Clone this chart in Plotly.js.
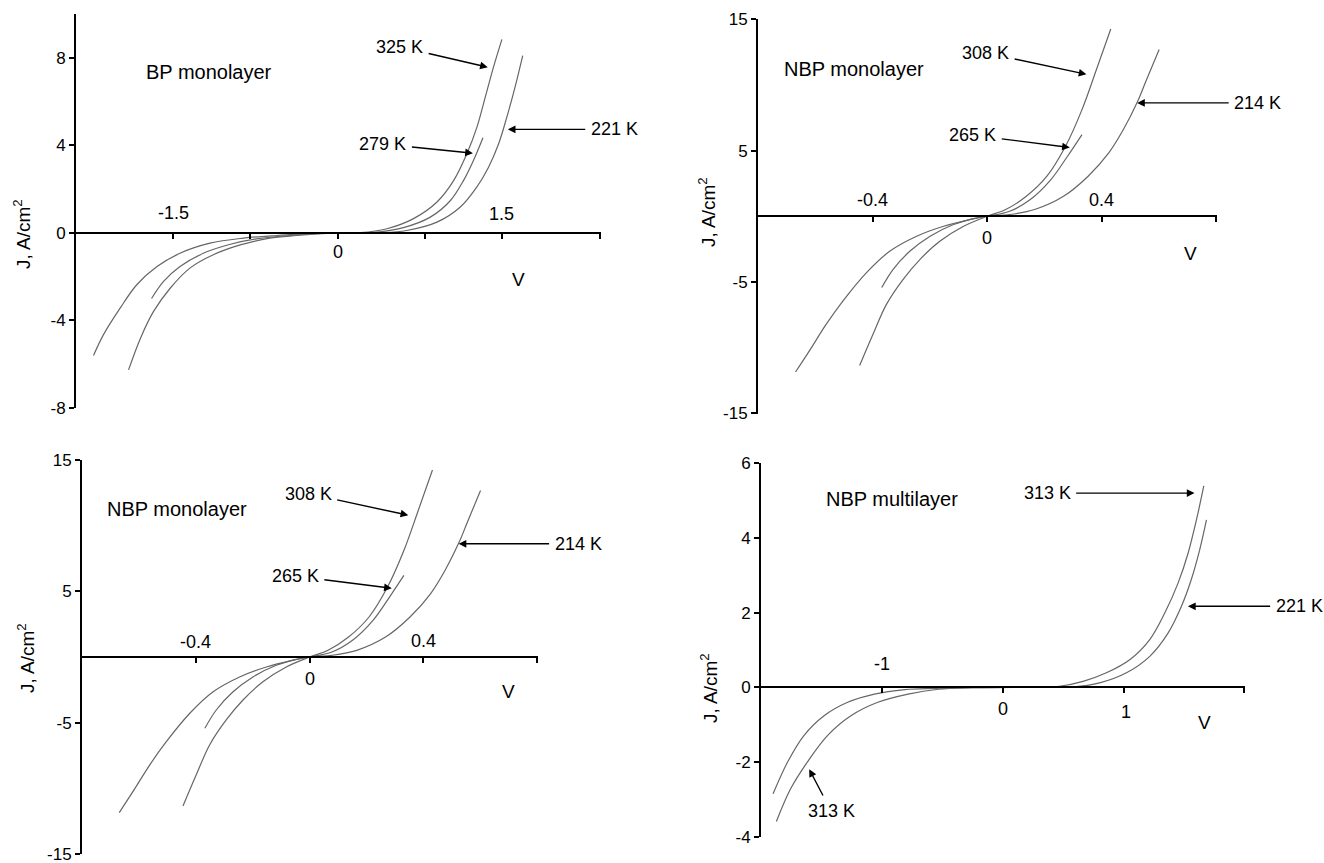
<!DOCTYPE html>
<html><head><meta charset="utf-8">
<script src="https://cdn.plot.ly/plotly-3.0.1.min.js"></script>
<style>html,body{margin:0;padding:0;background:#fff}#chart{width:1324px;height:863px}</style>
</head><body><div id="chart"></div>
<script>
// ---------- DATA ----------
// Panel 1: BP monolayer  (V in volts, J in A/cm2)
const bp221V = [-2.23,-2.14,-1.987,-1.835,-1.65,-1.44,-1.166,-0.86,-0.557,-0.34,-0.15,0.15,0.39,0.63,0.907,1.12,1.27,1.378,1.47,1.545,1.62,1.69];
const bp221J = [-5.6,-4.66,-3.44,-2.37,-1.54,-0.93,-0.47,-0.24,-0.12,-0.06,-0.02,0.0,0.01,0.11,0.49,1.18,2.09,3.0,4.07,5.29,6.66,8.1];
const bp279V = [-1.70,-1.59,-1.44,-1.227,-0.98,-0.74,-0.436,-0.2,0.1,0.33,0.60,0.846,1.03,1.15,1.24,1.327];
const bp279J = [-3.0,-2.22,-1.54,-0.93,-0.52,-0.27,-0.12,-0.04,0.0,0.02,0.24,0.72,1.48,2.4,3.31,4.35];
const bp325V = [-1.91,-1.80,-1.683,-1.53,-1.35,-1.136,-0.89,-0.62,-0.375,-0.2,0.0,0.207,0.45,0.693,0.907,1.06,1.18,1.272,1.348,1.423,1.50];
const bp325J = [-6.26,-4.8,-3.6,-2.53,-1.61,-1.0,-0.55,-0.24,-0.12,-0.05,0.0,0.01,0.19,0.65,1.41,2.4,3.62,4.83,6.2,7.57,8.84];
const bpXTicks = [-1.5,-0.8,0,0.8,1.5,2.4];
const bpXLabels = ['-1.5','0','1.5'];
const bpXLabelVals = [-1.5,0,1.5];
const bpYTicks = [-8,-4,0,4,8];
const bpTemps = ['325 K','279 K','221 K'];

// Panels 2 and 3: NBP monolayer
const nbp214V = [-0.669,-0.62,-0.561,-0.503,-0.421,-0.339,-0.246,-0.152,-0.059,0,0.079,0.166,0.267,0.353,0.425,0.476,0.526,0.555,0.601];
const nbp214J = [-11.86,-10.23,-8.2,-6.44,-4.29,-2.65,-1.52,-0.76,-0.25,0,0.13,0.51,1.52,3.05,4.82,6.6,8.76,10.3,12.69];
const nbp265V = [-0.368,-0.328,-0.269,-0.199,-0.117,-0.035,0,0.079,0.151,0.223,0.281,0.3315];
const nbp265J = [-5.43,-4.04,-2.65,-1.52,-0.63,-0.12,0,0.38,1.27,2.79,4.57,6.22];
const nbp308V = [-0.445,-0.398,-0.351,-0.293,-0.234,-0.164,-0.082,0,0.065,0.137,0.209,0.274,0.3315,0.382,0.432];
const nbp308J = [-11.36,-8.96,-6.69,-4.8,-3.28,-1.89,-0.76,0,0.51,1.52,3.05,5.33,8.12,11.17,14.26];
const nbpXTicks = [-0.4,0,0.4,0.8];
const nbpXLabels = ['-0.4','0','0.4'];
const nbpXLabelVals = [-0.4,0,0.4];
const nbpYTicks = [-15,-5,5,15];
const nbpTemps = ['308 K','265 K','214 K'];

// Panel 4: NBP multilayer
const mul221V = [-1.90,-1.78,-1.645,-1.478,-1.283,-1.062,-0.81,-0.56,-0.25,0.1,0.3,0.58,0.802,1.024,1.217,1.368,1.479,1.56,1.63,1.686];
const mul221J = [-2.85,-2.0,-1.29,-0.76,-0.40,-0.18,-0.06,-0.03,-0.01,0,0,0.01,0.12,0.39,0.83,1.45,2.17,2.88,3.68,4.48];
const mul313V = [-1.873,-1.756,-1.617,-1.45,-1.256,-1.033,-0.783,-0.533,-0.25,0.1,0.3,0.472,0.665,0.858,1.051,1.217,1.341,1.451,1.534,1.603,1.664];
const mul313J = [-3.59,-2.72,-2.0,-1.29,-0.76,-0.40,-0.18,-0.05,-0.01,0,0,0.03,0.16,0.39,0.74,1.28,1.99,2.79,3.59,4.48,5.39];
const mulXTicks = [-1,0,1,2];
const mulXLabels = ['-1','0','1'];
const mulXLabelVals = [-1,0,1.02];
const mulYTicks = [-4,-2,0,2,4,6];
const mulTemps = ['313 K','221 K','313 K'];

// ---------- LAYOUT ----------
const W = 1324, H = 863;
const FONT = 'Liberation Sans, Arial, Helvetica, sans-serif';
const CURVE = {color:'#666666', width:1.2};

// temperature labels: text centre (x,y) and arrow tip, in the panel's data units
const panels = [
  {n:1, px:[76,601], py:[14,408], xr:[-2.39,2.405], yr:[-8.001,10],
   xt:bpXTicks, yt:bpYTicks, lv:bpXLabelVals, lt:bpXLabels, lshift:[20,-19,19],
   curves:[[bp221V,bp221J],[bp279V,bp279J],[bp325V,bp325J]],
   title:{t:'BP monolayer', x:-1.177, y:7.37}, vlab:[1.649,-2.15], ytitle:[22,234],
   temps:[{t:bpTemps[0], x:0.566, y:8.5, tip:[1.371,7.57]},
          {t:bpTemps[1], x:0.413, y:4.06, tip:[1.235,3.64]},
          {t:bpTemps[2], x:2.526, y:4.73, tip:[1.554,4.73]}]},
  {n:2, px:[758,1217], py:[19,413.5], xr:[-0.8,0.803], yr:[-15.02,15.02],
   xt:nbpXTicks, yt:nbpYTicks, lv:nbpXLabelVals, lt:nbpXLabels, lshift:[16,-22,16],
   curves:[[nbp214V,nbp214J],[nbp265V,nbp265J],[nbp308V,nbp308J]],
   title:{t:'NBP monolayer', x:-0.465, y:11.25}, vlab:[0.711,-2.82], ytitle:[707,212],
   temps:[{t:nbpTemps[0], x:-0.005, y:12.45, tip:[0.347,10.81]},
          {t:nbpTemps[1], x:-0.05, y:6.17, tip:[0.289,5.24]},
          {t:nbpTemps[2], x:0.945, y:8.63, tip:[0.524,8.63]}]},
  {n:3, px:[82,538], py:[460,854], xr:[-0.8,0.803], yr:[-15.02,15.02],
   xt:nbpXTicks, yt:nbpYTicks, lv:nbpXLabelVals, lt:nbpXLabels, lshift:[15,-22,16],
   curves:[[nbp214V,nbp214J],[nbp265V,nbp265J],[nbp308V,nbp308J]],
   title:{t:'NBP monolayer', x:-0.465, y:11.25}, vlab:[0.698,-2.62], ytitle:[26,658],
   temps:[{t:nbpTemps[0], x:-0.005, y:12.45, tip:[0.347,10.81]},
          {t:nbpTemps[1], x:-0.05, y:6.17, tip:[0.289,5.24]},
          {t:nbpTemps[2], x:0.944, y:8.63, tip:[0.524,8.63]}]},
  {n:4, px:[761,1245], py:[463,837], xr:[-2,2.005], yr:[-4.005,6.005],
   xt:mulXTicks, yt:mulYTicks, lv:mulXLabelVals, lt:mulXLabels, lshift:[23,-22,-25],
   curves:[[mul221V,mul221J],[mul313V,mul313J]],
   title:{t:'NBP multilayer', x:-0.917, y:5.05}, vlab:[1.668,-0.94], ytitle:[709,688],
   temps:[{t:mulTemps[0], x:0.368, y:5.2, tip:[1.587,5.2]},
          {t:mulTemps[1], x:2.453, y:2.17, tip:[1.533,2.17]},
          {t:mulTemps[2], x:-1.42, y:-3.31, tip:[-1.601,-2.19]}]}
];

const data = [];
const layout = {
  width:W, height:H, autosize:false,
  margin:{l:0,r:0,t:0,b:0},
  paper_bgcolor:'#fff', plot_bgcolor:'rgba(0,0,0,0)',
  showlegend:false,
  font:{family:FONT, size:17, color:'#000'},
  annotations:[]
};

panels.forEach(p => {
  const s = p.n === 1 ? '' : String(p.n);
  const xa = 'x' + s, ya = 'y' + s;
  p.curves.forEach(c => data.push({
    type:'scatter', mode:'lines', x:c[0], y:c[1], xaxis:xa, yaxis:ya,
    line:Object.assign({shape:'spline', smoothing:1}, CURVE), hoverinfo:'skip'
  }));
  const y0pix = p.py[0] + (p.yr[1]/(p.yr[1]-p.yr[0]))*(p.py[1]-p.py[0]);
  layout['xaxis'+s] = {
    domain:[p.px[0]/W, p.px[1]/W], range:p.xr, anchor:'free', position:1 - y0pix/H,
    showline:true, linewidth:2, linecolor:'#000', zeroline:false, showgrid:false,
    tickmode:'array', tickvals:p.xt, ticks:'outside', ticklen:5, tickwidth:2, tickcolor:'#000',
    showticklabels:false, fixedrange:true
  };
  layout['yaxis'+s] = {
    domain:[1 - p.py[1]/H, 1 - p.py[0]/H], range:p.yr, anchor:xa,
    showline:true, linewidth:2, linecolor:'#000', zeroline:false, showgrid:false,
    tickmode:'array', tickvals:p.yt, ticktext:p.yt.map(String), ticks:'outside', ticklen:5, tickwidth:2, tickcolor:'#000',
    ticklabeloverflow:'allow',
    tickfont:{family:FONT, size:17, color:'#000'}, fixedrange:true
  };
  const A = layout.annotations;
  // x tick labels
  p.lv.forEach((v,i) => A.push({xref:xa, yref:ya, x:v, y:0, yshift:p.lshift[i], text:p.lt[i],
    showarrow:false, xanchor:'center', yanchor:'middle', font:{family:FONT, size:18}}));
  // V label
  A.push({xref:xa, yref:ya, x:p.vlab[0], y:p.vlab[1], text:'V', showarrow:false,
    xanchor:'center', yanchor:'middle', font:{family:FONT, size:19}});
  // panel title
  A.push({xref:xa, yref:ya, x:p.title.x, y:p.title.y, text:p.title.t, showarrow:false,
    xanchor:'center', yanchor:'middle', font:{family:FONT, size:20}});
  // y axis title
  A.push({xref:'paper', yref:'paper', x:p.ytitle[0]/W, y:1 - p.ytitle[1]/H, text:'J, A/cm<sup>2</sup>',
    textangle:-90, showarrow:false, xanchor:'center', yanchor:'middle', font:{family:FONT, size:19}});
  // temperature labels with their arrows
  p.temps.forEach(t => {
    A.push({xref:xa, yref:ya, axref:xa, ayref:ya, x:t.tip[0], y:t.tip[1], ax:t.x, ay:t.y,
      text:t.t, font:{family:FONT, size:18}, borderpad:5,
      showarrow:true, arrowhead:2, arrowsize:1.1, arrowwidth:1.4, arrowcolor:'#000'});
  });
});

Plotly.newPlot('chart', data, layout, {staticPlot:true, displayModeBar:false});
</script>
</body></html>
